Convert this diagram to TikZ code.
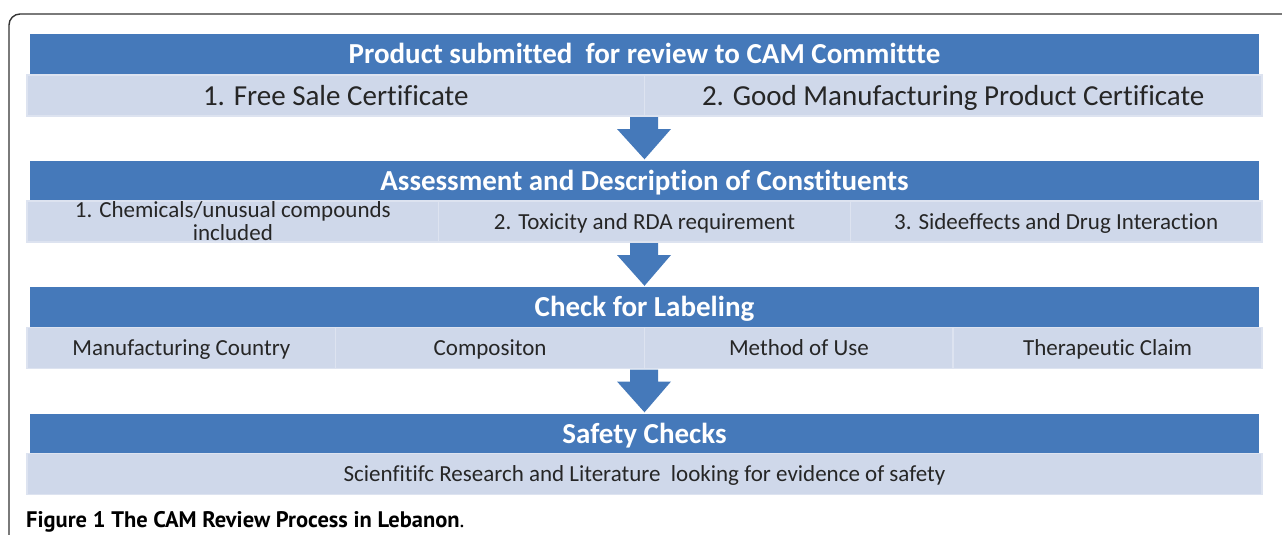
\documentclass[tikz,border=0pt]{standalone}
\usepackage{fontspec}
\setmainfont{Carlito}[Ligatures=NoCommon]
\newfontfamily\capfont{PT Sans}
\usetikzlibrary{calc}
\definecolor{bandblue}{HTML}{4579BA}
\definecolor{celllight}{HTML}{CFD8EA}
\definecolor{celledge}{HTML}{DDE3F0}
\definecolor{celltext}{HTML}{262626}
\definecolor{framegray}{HTML}{333333}
\begin{document}
\begin{tikzpicture}[x=1pt,y=-1pt,
  band/.style={fill=bandblue, minimum width=1229pt, minimum height=40pt, inner sep=0pt,
    text height=19pt, text depth=0pt,
    text=white, font=\fontsize{29}{29}\selectfont\bfseries},
  cellrow/.style={fill=celllight, draw=celledge, line width=1.5pt, minimum height=41pt,
    inner sep=0pt, text=celltext, align=center},
  bigcell/.style={cellrow, text height=19pt, text depth=0pt, font=\fontsize{29}{29}\selectfont},
  smallcell/.style={cellrow, text height=15pt, text depth=0pt, font=\fontsize{23}{23}\selectfont},
  twolinecell/.style={cellrow, font=\fontsize{23}{23}\selectfont},
  blockarrow/.style={fill=bandblue}
]
\useasboundingbox (0,0) rectangle (1282,535);
% frame
\coordinate (fbl) at (9,545);
\coordinate (ftr) at (1290,14);
\draw[framegray, line width=1.4pt, rounded corners=11pt] (fbl) |- (ftr);

% row 1
\node[band] (t1) at (644.5,54) {Product submitted \ for review to CAM Committte};
\node[bigcell, minimum width=617.5pt] (c11) at (335.75,95.5) {1. Free Sale Certificate};
\node[bigcell, minimum width=617.5pt] (c12) at (953.25,95.5) {2. Good Manufacturing Product Certificate};

% row 2
\node[band] (t2) at (644.5,180.5) {Assessment and Description of Constituents};
\node[twolinecell, minimum width=411.7pt] (c21) at (232.85,221.5) {1. Chemicals/unusual compounds\\included};
\node[smallcell, minimum width=411.7pt] (c22) at (644.5,221.5) {2. Toxicity and RDA requirement};
\node[smallcell, minimum width=411.7pt] (c23) at (1056.15,221.5) {3. Sideeffects and Drug Interaction};

% row 3
\node[band] (t3) at (644.5,307) {Check for Labeling};
\node[smallcell, minimum width=308.75pt] (c31) at (181.4,348) {Manufacturing Country};
\node[smallcell, minimum width=308.75pt] (c32) at (490.1,348) {Compositon};
\node[smallcell, minimum width=308.75pt] (c33) at (798.9,348) {Method of Use};
\node[smallcell, minimum width=308.75pt] (c34) at (1107.6,348) {Therapeutic Claim};

% row 4
\node[band] (t4) at (644.5,433.5) {Safety Checks};
\node[smallcell, minimum width=1235pt] (c41) at (644.5,474) {Scienfitifc Research and Literature \ looking for evidence of safety};

% block arrows between rows
\newcommand{\blockarr}[2]{%
  \fill[blockarrow] ($(#1)+(-14,1)$) -- ($(#1)+(14,1)$) -- ($(#1)+(14,13)$) -- ($(#1)+(27,13)$)
    -- ($(#2)+(0,-1)$) -- ($(#1)+(-27,13)$) -- ($(#1)+(-14,13)$) -- cycle;}
\coordinate (a1s) at (644,116);
\coordinate (a1e) at (t2.north);
\coordinate (a2s) at (644,242);
\coordinate (a2e) at (t3.north);
\coordinate (a3s) at (644,368.5);
\coordinate (a3e) at (t4.north);
\blockarr{a1s}{a1e}
\blockarr{a2s}{a2e}
\blockarr{a3s}{a3e}

% caption
\node[anchor=base west, inner sep=0pt, font=\capfont\fontsize{22.5}{26}\selectfont] (cap) at (26,527)
  {\textbf{Figure 1 The CAM Review Process in Lebanon}.};
\end{tikzpicture}
\end{document}
